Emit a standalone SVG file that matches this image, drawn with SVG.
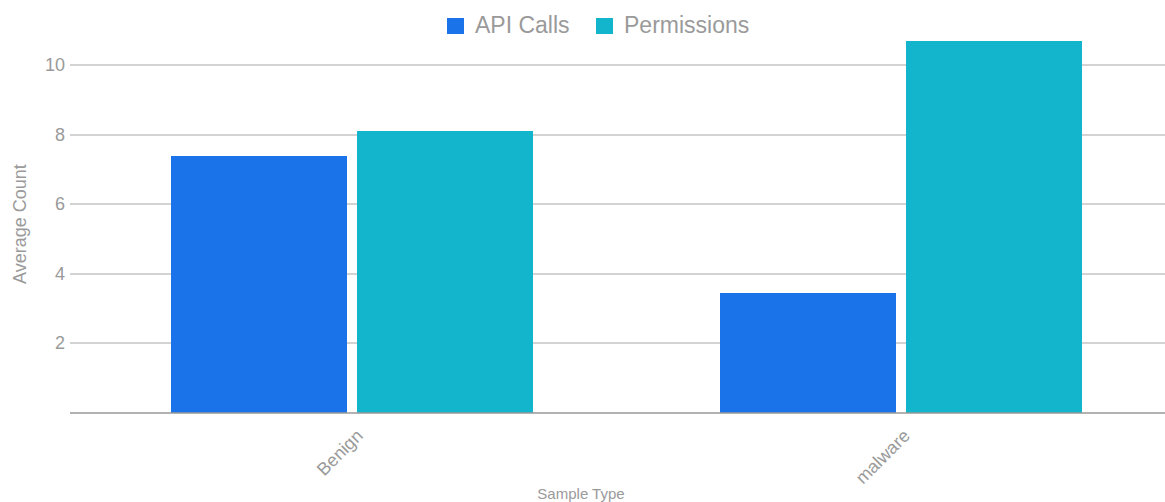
<svg xmlns="http://www.w3.org/2000/svg" width="1165" height="502" viewBox="0 0 1165 502">
<style>
.t{font-family:"Liberation Sans",Arial,sans-serif;fill:#9a9a9a}
.tick{font-size:18px;text-anchor:end}
.grid{stroke:#c4c4c4;stroke-width:1.5}
.base{stroke:#999999;stroke-width:1.5}
.api{fill:#1a73e8}
.perm{fill:#12b5cb}
</style>
<rect width="1165" height="502" fill="#ffffff"/>
<g id="legend">
<rect class="api" x="447" y="18" width="17" height="16"/>
<text class="t" x="475" y="33" font-size="23">API Calls</text>
<rect class="perm" x="596" y="18" width="17" height="16"/>
<text class="t" x="624" y="33" font-size="23">Permissions</text>
</g>
<g id="gridlines">
<line class="grid" x1="70" y1="65" x2="1165" y2="65"/>
<line class="grid" x1="70" y1="135" x2="1165" y2="135"/>
<line class="grid" x1="70" y1="204" x2="1165" y2="204"/>
<line class="grid" x1="70" y1="274" x2="1165" y2="274"/>
<line class="grid" x1="70" y1="343" x2="1165" y2="343"/>
</g>
<g id="y-axis">
<text class="t tick" x="65" y="71">10</text>
<text class="t tick" x="65" y="141">8</text>
<text class="t tick" x="65" y="210">6</text>
<text class="t tick" x="65" y="280">4</text>
<text class="t tick" x="65" y="349">2</text>
<text class="t" x="0" y="0" font-size="18" text-anchor="middle" transform="translate(26,224) rotate(-90)">Average Count</text>
</g>
<g id="bars">
<rect id="benign-api" class="api" x="171" y="156" width="176" height="257"/>
<rect id="benign-perm" class="perm" x="357" y="131" width="176" height="282"/>
<rect id="malware-api" class="api" x="720" y="293" width="176" height="120"/>
<rect id="malware-perm" class="perm" x="906" y="41" width="176" height="372"/>
</g>
<line class="base" x1="70" y1="413" x2="1165" y2="413"/>
<g id="x-axis">
<text class="t" x="0" y="0" font-size="18" text-anchor="end" transform="translate(364,437) rotate(-45)">Benign</text>
<text class="t" x="0" y="0" font-size="18" text-anchor="end" transform="translate(911,437) rotate(-45)">malware</text>
<text class="t" x="581" y="499" font-size="15" text-anchor="middle">Sample Type</text>
</g>
</svg>
